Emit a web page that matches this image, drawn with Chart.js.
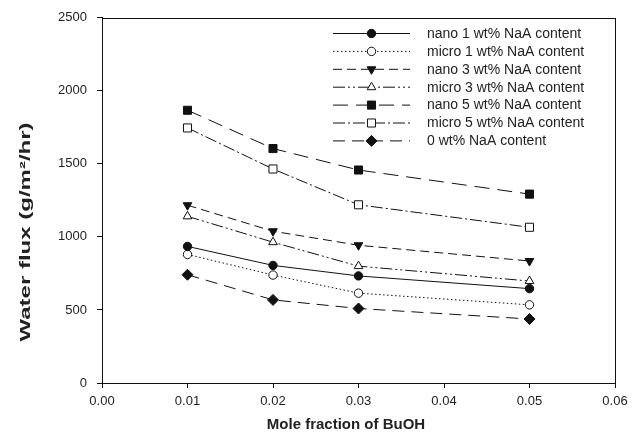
<!DOCTYPE html>
<html>
<head>
<meta charset="utf-8">
<script src="https://cdn.jsdelivr.net/npm/chart.js@4.4.1/dist/chart.umd.min.js"></script>
<style>
  html, body { margin: 0; padding: 0; background: #fff; }
  #wrap { width: 639px; height: 443px; }
</style>
</head>
<body>
<div id="wrap"><canvas id="fluxChart" width="639" height="443"></canvas></div>
<script>
// mole fraction of BuOH (x positions)
const moleFractions = [0.01, 0.02, 0.03, 0.05];

// water flux values (g/m2/hr)
const nano1  = [935, 805, 733, 646];
const micro1 = [880, 739, 615, 535];
const nano3  = [1217, 1039, 943, 835];
const micro3 = [1141, 964, 800, 698];
const nano5  = [1867, 1605, 1458, 1293];
const micro5 = [1746, 1465, 1220, 1066];
const zero   = [741, 569, 510, 438];

const seriesLabels = [
    'nano 1 wt% NaA content',
    'micro 1 wt% NaA content',
    'nano 3 wt% NaA content',
    'micro 3 wt% NaA content',
    'nano 5 wt% NaA content',
    'micro 5 wt% NaA content',
    '0 wt% NaA content'
];

const xTicks = [0.00, 0.01, 0.02, 0.03, 0.04, 0.05, 0.06];
const yTicks = [0, 500, 1000, 1500, 2000, 2500];

const AREA = { left: 102, right: 615, top: 15, bottom: 383 };
const FONT = '"Liberation Sans", Arial, sans-serif';

function makeSet(label, values, dash, pointStyle, filled, rotation, radius) {
    return {
        label: label,
        data: moleFractions.map(function (x, i) { return { x: x, y: values[i] }; }),
        borderColor: '#111',
        borderWidth: 1,
        borderDash: dash,
        pointStyle: pointStyle,
        pointRotation: rotation || 0,
        pointRadius: radius || 4,
        pointBorderWidth: 1,
        pointBorderColor: '#111',
        pointBackgroundColor: filled ? '#111' : '#fff',
        fill: false,
        tension: 0
    };
}

const datasets = [
    makeSet(seriesLabels[0], nano1,  [],                  'circle',   true, 0, 4.2),
    makeSet(seriesLabels[1], micro1, [1.5, 2.5],          'circle',   false, 0, 4.2),
    makeSet(seriesLabels[2], nano3,  [9, 5],              'triangle', true, 180, 5),
    makeSet(seriesLabels[3], micro3, [12, 3, 2, 3, 2, 3], 'triangle', false, 0, 5),
    makeSet(seriesLabels[4], nano5,  [15, 8],             'rect',     true, 0, 5.7),
    makeSet(seriesLabels[5], micro5, [12, 3, 2, 3],       'rect',     false, 0, 5.7),
    makeSet(seriesLabels[6], zero,   [12, 7],             'rectRot',  true, 0, 5.5)
];

// frame around the plot area, axis titles and the in-plot legend
const decorations = {
    id: 'decorations',
    afterDatasetsDraw: function (chart) {
        const ctx = chart.ctx;
        const a = chart.chartArea;
        ctx.save();
        ctx.strokeStyle = '#111';
        ctx.lineWidth = 1;
        ctx.setLineDash([]);
        ctx.strokeRect(Math.round(a.left) + 0.5, Math.round(a.top) + 0.5,
                       Math.round(a.right - a.left), Math.round(a.bottom - a.top));

        // axis titles
        ctx.fillStyle = '#222';
        ctx.font = 'bold 15px ' + FONT;
        ctx.textAlign = 'center';
        ctx.textBaseline = 'middle';
        ctx.fillText('Mole fraction of BuOH', 346, 425);
        ctx.save();
        ctx.translate(26, 232);
        ctx.rotate(-Math.PI / 2);
        ctx.scale(1.6, 1);
        ctx.fillText('Water flux (g/m\u00b2/hr)', 0, 0);
        ctx.restore();

        // legend
        const x0 = 333, x1 = 410, tx = 427;
        ctx.font = '14px ' + FONT;
        ctx.textAlign = 'left';
        chart.data.datasets.forEach(function (ds, i) {
            const y = 33 + i * 17.9;
            ctx.save();
            ctx.strokeStyle = ds.borderColor;
            ctx.lineWidth = ds.borderWidth;
            ctx.setLineDash(ds.borderDash);
            ctx.beginPath();
            ctx.moveTo(x0, y + 0.5);
            ctx.lineTo(x1, y + 0.5);
            ctx.stroke();
            ctx.setLineDash([]);
            ctx.fillStyle = ds.pointBackgroundColor;
            ctx.strokeStyle = ds.pointBorderColor;
            Chart.helpers.drawPoint(ctx, {
                pointStyle: ds.pointStyle,
                rotation: ds.pointRotation,
                radius: ds.pointRadius,
                borderWidth: 1
            }, (x0 + x1) / 2, y + 0.5);
            ctx.restore();
            ctx.fillStyle = '#222';
            ctx.fillText(ds.label, tx, y + 1);
        });
        ctx.restore();
    }
};

const ctx = document.getElementById('fluxChart').getContext('2d');
const fluxChart = new Chart(ctx, {
    type: 'line',
    data: { datasets: datasets },
    options: {
        responsive: false,
        animation: false,
        layout: { padding: { left: 0, right: 639 - AREA.right, top: AREA.top, bottom: 0 } },
        plugins: {
            legend: { display: false },
            tooltip: { enabled: false }
        },
        scales: {
            x: {
                type: 'linear',
                min: 0,
                max: 0.06,
                afterBuildTicks: function (scale) {
                    scale.ticks = xTicks.map(function (v) { return { value: v }; });
                },
                afterFit: function (scale) { scale.height = 443 - AREA.bottom; },
                grid: { drawOnChartArea: false, drawTicks: true, tickLength: 5, color: '#111' },
                border: { color: '#111' },
                ticks: {
                    color: '#222',
                    padding: 6,
                    font: { family: FONT, size: 13 },
                    callback: function (v) { return Number(v).toFixed(2); }
                }
            },
            y: {
                min: 0,
                max: 2500,
                afterBuildTicks: function (scale) {
                    scale.ticks = yTicks.map(function (v) { return { value: v }; });
                },
                afterFit: function (scale) { scale.width = AREA.left; },
                grid: { drawOnChartArea: false, drawTicks: true, tickLength: 5, color: '#111' },
                border: { color: '#111' },
                ticks: {
                    color: '#222',
                    padding: 10,
                    font: { family: FONT, size: 13 },
                    callback: function (v) { return String(v); }
                }
            }
        }
    },
    plugins: [decorations]
});
</script>
</body>
</html>
